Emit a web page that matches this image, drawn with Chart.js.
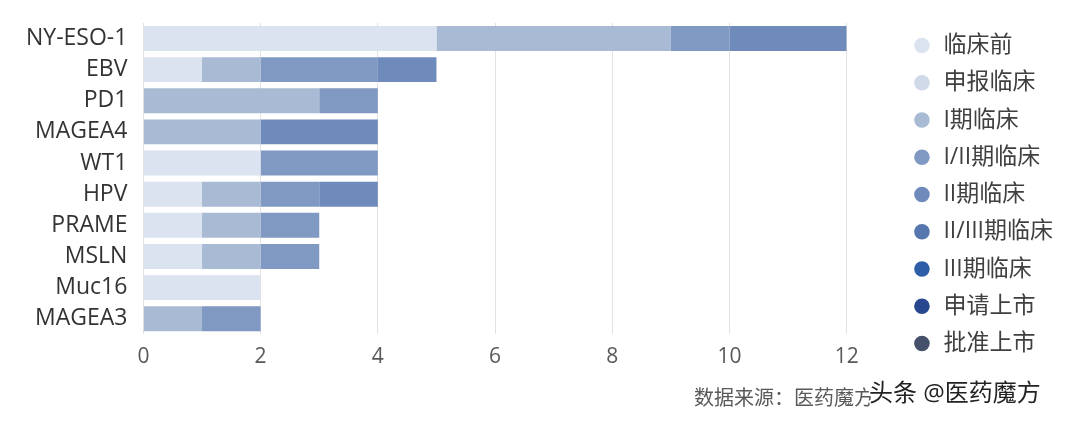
<!DOCTYPE html>
<html>
<head>
<meta charset="utf-8">
<script src="https://cdn.jsdelivr.net/npm/chart.js@4"></script>
<style>
  html, body { margin: 0; padding: 0; background: #fff; }
  #wrap { width: 1080px; height: 422px; position: relative; }
</style>
</head>
<body>
<div id="wrap"><canvas id="pipelineChart"></canvas></div>
<script>
// targets
const categories = ['NY-ESO-1', 'EBV', 'PD1', 'MAGEA4', 'WT1', 'HPV', 'PRAME', 'MSLN', 'Muc16', 'MAGEA3'];

// stages (legend order)
const stageNames = ['临床前', '申报临床', 'I期临床', 'I/II期临床', 'II期临床', 'II/III期临床', 'III期临床', '申请上市', '批准上市'];
const stageColors = ['#dbe3f0', '#d0d9e8', '#a9bad5', '#7f99c3', '#6e8bbb', '#5677ad', '#2f5ea8', '#27478f', '#45506a'];

// counts per stage, one value per target
const preclinical = [5, 1, 0, 0, 2, 1, 1, 1, 2, 0];
const indFiled    = [0, 0, 0, 0, 0, 0, 0, 0, 0, 0];
const phase1      = [4, 1, 3, 2, 0, 1, 1, 1, 0, 1];
const phase1to2   = [1, 2, 1, 0, 2, 1, 1, 1, 0, 1];
const phase2      = [2, 1, 0, 2, 0, 1, 0, 0, 0, 0];
const phase2to3   = [0, 0, 0, 0, 0, 0, 0, 0, 0, 0];
const phase3      = [0, 0, 0, 0, 0, 0, 0, 0, 0, 0];
const ndaFiled    = [0, 0, 0, 0, 0, 0, 0, 0, 0, 0];
const approved    = [0, 0, 0, 0, 0, 0, 0, 0, 0, 0];

const xTicks = [0, 2, 4, 6, 8, 10, 12];

const FONT = '"Open Sans", "Noto Sans CJK SC", sans-serif';
const stageData = [preclinical, indFiled, phase1, phase1to2, phase2, phase2to3, phase3, ndaFiled, approved];

const datasets = stageNames.map((name, i) => ({
    label: name,
    data: stageData[i],
    backgroundColor: stageColors[i],
    borderWidth: 0,
    barPercentage: 0.8,
    categoryPercentage: 1.0
}));

// footer note + watermark
const footerPlugin = {
    id: 'footerNote',
    afterDraw(chart) {
        const ctx = chart.ctx;
        ctx.save();
        ctx.textBaseline = 'middle';
        ctx.textAlign = 'left';
        ctx.font = '20px ' + FONT;
        ctx.fillStyle = '#595959';
        ctx.fillText('数据来源：医药魔方', 694, 399);
        ctx.font = '24px ' + FONT;
        ctx.lineWidth = 3;
        ctx.strokeStyle = '#ffffff';
        ctx.strokeText('头条 @医药魔方', 869, 394);
        ctx.fillStyle = '#222222';
        ctx.fillText('头条 @医药魔方', 869, 394);
        ctx.restore();
    }
};

new Chart(document.getElementById('pipelineChart'), {
    type: 'bar',
    data: { labels: categories, datasets: datasets },
    plugins: [footerPlugin],
    options: {
        indexAxis: 'y',
        responsive: true,
        maintainAspectRatio: false,
        animation: false,
        layout: { padding: { top: 10, bottom: 43, left: 10, right: 17 } },
        scales: {
            x: {
                stacked: true,
                min: 0,
                max: 12,
                afterBuildTicks: (scale) => { scale.ticks = xTicks.map(v => ({ value: v })); },
                grid: { color: '#e2e2e2', lineWidth: 1, drawTicks: false },
                border: { display: false },
                ticks: { padding: 15, color: '#595959', font: { family: FONT, size: 21, lineHeight: 0.7 } }
            },
            y: {
                stacked: true,
                grid: { display: false, drawTicks: false },
                border: { display: false },
                ticks: { autoSkip: false, padding: 16, color: '#333333', font: { family: FONT, size: 23, lineHeight: 0.6 } }
            },
            spacer: {
                type: 'linear',
                position: 'right',
                axis: 'y',
                display: true,
                grid: { display: false },
                border: { display: false },
                ticks: { display: false },
                afterFit: (scale) => { scale.width = 51; }
            }
        },
        plugins: {
            legend: {
                position: 'right',
                labels: {
                    usePointStyle: true,
                    pointStyle: 'circle',
                    boxWidth: 20,
                    boxHeight: 11,
                    padding: 14.25,
                    color: '#404040',
                    font: { family: FONT, size: 23 }
                }
            },
            tooltip: { enabled: false }
        }
    }
});
</script>
</body>
</html>
